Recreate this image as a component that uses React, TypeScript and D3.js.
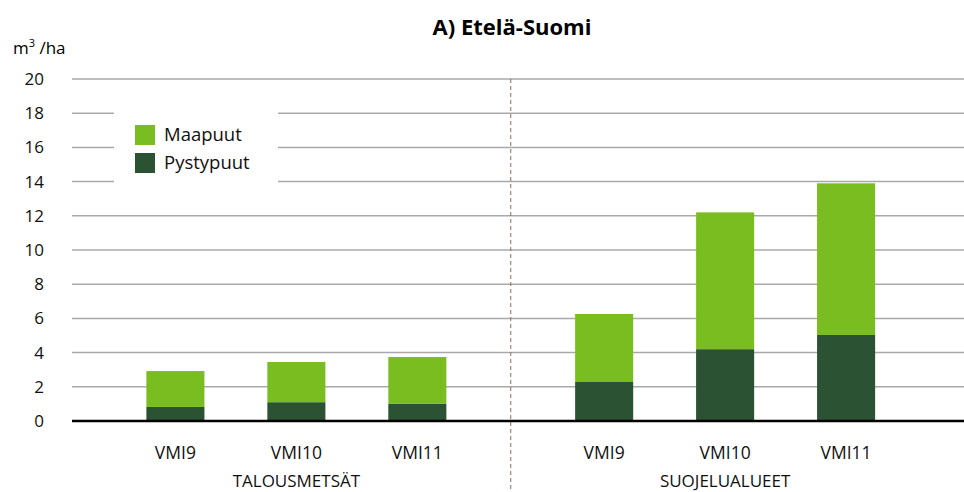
import { useEffect, useRef } from 'react';
import * as d3 from 'd3';

const groups = ['TALOUSMETSÄT', 'SUOJELUALUEET'];
const inventories = ['VMI9', 'VMI10', 'VMI11'];
// values per group, in inventory order (m3/ha)
const pystypuut = [
  [0.82, 1.1, 1.0],
  [2.28, 4.2, 5.03],
];
const maapuut = [
  [2.1, 2.35, 2.74],
  [3.98, 8.0, 8.87],
];
const yTicks = [0, 2, 4, 6, 8, 10, 12, 14, 16, 18, 20];
const seriesNames = ['Maapuut', 'Pystypuut'];
const colors = ['#7abd21', '#2c5234'];

const FONT = '"Open Sans", "Noto Sans", sans-serif';

const App = () => {
  const svgRef = useRef<SVGSVGElement | null>(null);
  const width = 964;
  const height = 492;

  useEffect(() => {
    document.body.style.margin = '0';
    const svg = d3.select(svgRef.current);
    svg.selectAll('*').remove();

    const left = 72;
    const top = 79;
    const bottom = 421;

    const y = d3.scaleLinear().domain([0, 20]).range([bottom, top]);

    // outer scale for the two groups
    const x0 = d3.scaleBand().domain(groups).range([82, 939.5]).padding(0);
    const x1 = d3
      .scaleBand()
      .domain(inventories)
      .range([x0.bandwidth() / 2 - 150, x0.bandwidth() / 2 + 150])
      .paddingInner(0.52)
      .paddingOuter(0);

    // Title
    svg.append('text')
      .attr('x', 512)
      .attr('y', 35)
      .attr('text-anchor', 'middle')
      .style('font-family', FONT)
      .style('font-size', '22px')
      .style('font-weight', 'bold')
      .text('A) Etelä-Suomi');

    // Unit label
    const unit = svg.append('text')
      .attr('x', 13)
      .attr('y', 54)
      .style('font-family', FONT)
      .style('font-size', '17px');
    unit.append('tspan').text('m');
    unit.append('tspan').attr('dy', -7).style('font-size', '11px').text('3');
    unit.append('tspan').attr('dy', 7).text(' /ha');

    // Grid lines
    svg.append('g')
      .selectAll('line')
      .data(yTicks.filter(d => d > 0))
      .enter()
      .append('line')
      .attr('x1', left)
      .attr('x2', width)
      .attr('y1', d => y(d))
      .attr('y2', d => y(d))
      .attr('stroke', '#a9a9a9')
      .attr('stroke-width', 1.5);

    // Y tick labels
    svg.append('g')
      .selectAll('text')
      .data(yTicks)
      .enter()
      .append('text')
      .attr('x', 44)
      .attr('y', d => y(d))
      .attr('dy', '0.35em')
      .attr('text-anchor', 'end')
      .style('font-family', FONT)
      .style('font-size', '17px')
      .style('fill', '#111')
      .text(d => d);

    // Stacked bars
    groups.forEach((grp, gi) => {
      const g = svg.append('g').attr('transform', `translate(${x0(grp)},0)`);
      inventories.forEach((inv, i) => {
        const low = pystypuut[gi][i];
        const high = low + maapuut[gi][i];
        g.append('rect')
          .attr('x', x1(inv))
          .attr('width', x1.bandwidth())
          .attr('y', y(low))
          .attr('height', y(0) - y(low))
          .attr('fill', colors[1]);
        g.append('rect')
          .attr('x', x1(inv))
          .attr('width', x1.bandwidth())
          .attr('y', y(high))
          .attr('height', y(low) - y(high))
          .attr('fill', colors[0]);
        g.append('text')
          .attr('x', x1(inv) + x1.bandwidth() / 2)
          .attr('y', 459)
          .attr('text-anchor', 'middle')
          .style('font-family', FONT)
          .style('font-size', '17.5px')
          .style('fill', '#111')
          .text(inv);
      });
      g.append('text')
        .attr('x', x0.bandwidth() / 2)
        .attr('y', 487)
        .attr('text-anchor', 'middle')
        .style('font-family', FONT)
        .style('font-size', '17px')
        .style('fill', '#111')
        .text(grp);
    });

    // Group separator
    const sepX = x0(groups[1]);
    svg.append('line')
      .attr('x1', sepX)
      .attr('x2', sepX)
      .attr('y1', top)
      .attr('y2', height)
      .attr('stroke', '#8c6e5a')
      .attr('stroke-width', 1)
      .attr('stroke-dasharray', '4,3');

    // Baseline
    svg.append('line')
      .attr('x1', left)
      .attr('x2', width)
      .attr('y1', y(0))
      .attr('y2', y(0))
      .attr('stroke', '#000')
      .attr('stroke-width', 2.5);

    // Legend
    const legend = svg.append('g');
    legend.append('rect')
      .attr('x', 114)
      .attr('y', 107)
      .attr('width', 164)
      .attr('height', 80)
      .attr('fill', '#fff');
    seriesNames.forEach((name, i) => {
      legend.append('rect')
        .attr('x', 135)
        .attr('y', 125 + i * 28)
        .attr('width', 20)
        .attr('height', 20)
        .attr('fill', colors[i]);
      legend.append('text')
        .attr('x', 164)
        .attr('y', 135 + i * 28)
        .attr('dy', '0.35em')
        .style('font-family', FONT)
        .style('font-size', '18.5px')
        .style('fill', '#111')
        .text(name);
    });
  }, []);

  return <svg ref={svgRef} width={width} height={height} style={{ display: 'block' }} />;
};

export default App;
